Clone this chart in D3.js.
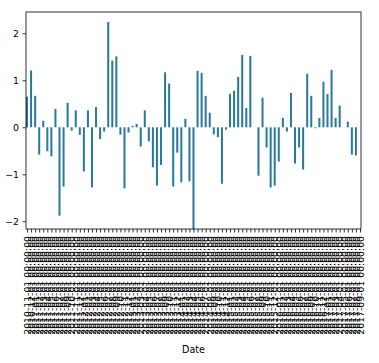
<!DOCTYPE html>
<html>
<head>
<meta charset="utf-8">
<script src="https://cdn.jsdelivr.net/npm/d3@7"></script>
<style>
  body { margin: 0; background: #fff; }
  text { font-family: "DejaVu Sans", sans-serif; }
</style>
</head>
<body>
<svg id="chart" width="379" height="363"></svg>
<script>
// monthly values, one bar per month
const startMonth = "2010-11-01";
const values = [
  0.65, 1.21, 0.67, -0.58, 0.14, -0.51, -0.62, 0.39, -1.88, -1.26,
  0.52, -0.07, 0.36, -0.16, -0.94, 0.36, -1.28, 0.43, -0.25, -0.09,
  2.24, 1.42, 1.51, -0.16, -1.30, -0.11, 0.03, 0.07, -0.41, 0.36,
  -0.30, -0.85, -1.24, -0.80, 1.17, 0.93, -1.26, -0.54, -1.17, 0.18,
  -1.15, -2.17, 1.20, 1.16, 0.67, 0.31, -0.15, -0.21, -1.20, -0.05,
  0.71, 0.78, 1.07, 1.54, 0.41, 1.52, 0.0, -1.03, 0.63, -0.43,
  -1.28, -1.24, -0.73, 0.20, -0.09, 0.73, -0.77, -0.43, -0.90, 1.14,
  0.67, -0.02, 0.20, 0.97, 0.71, 1.22, 0.20, 0.46, 0.0, 0.12,
  -0.58, -0.60, 0.0
];
const yTicks = [-2, -1, 0, 1, 2];
const xLabel = "Date";

// tick labels: the month index as pandas prints timestamps
const start = d3.utcParse("%Y-%m-%d")(startMonth);
const fmt = d3.utcFormat("%Y-%m-%d %H:%M:%S");
const dates = d3.utcMonth.range(start, d3.utcMonth.offset(start, values.length));
const labels = dates.map(d => fmt(d));

const svg = d3.select("#chart");
const margin = { left: 26, right: 18, top: 12, bottom: 134 };
const width = 379, height = 363;

const x = d3.scaleLinear()
  .domain([-0.25, values.length - 0.75])
  .range([margin.left, width - margin.right]);

const y = d3.scaleLinear()
  .domain([-2.164, 2.453])
  .range([height - margin.bottom, margin.top]);

svg.append("clipPath").attr("id", "plot-clip")
  .append("rect")
  .attr("x", margin.left).attr("y", margin.top)
  .attr("width", x.range()[1] - x.range()[0])
  .attr("height", y.range()[0] - y.range()[1]);

// bars
svg.append("g")
  .attr("clip-path", "url(#plot-clip)")
  .selectAll("rect")
  .data(values)
  .enter()
  .append("rect")
  .attr("x", (d, i) => x(i - 0.25))
  .attr("width", x(0.25) - x(-0.25))
  .attr("y", d => y(Math.max(0, d)))
  .attr("height", d => Math.abs(y(d) - y(0)))
  .attr("fill", "#2b7a9c");

// y axis
const yAxis = svg.append("g")
  .attr("transform", `translate(${margin.left},0)`)
  .call(d3.axisLeft(y).tickValues(yTicks).tickSize(3.5).tickPadding(3.5)
    .tickFormat(d => d < 0 ? "\u2212" + Math.abs(d) : String(d)));
yAxis.select(".domain").remove();
yAxis.selectAll("line").attr("stroke", "#000").attr("stroke-width", 0.8);
yAxis.selectAll("text").attr("font-size", 9.3).attr("fill", "#000")
  .attr("font-family", "DejaVu Sans, sans-serif");

// x axis with rotated date labels
const xAxis = svg.append("g")
  .attr("transform", `translate(0,${y.range()[0]})`)
  .call(d3.axisBottom(x).tickValues(d3.range(values.length)).tickSize(3.5)
    .tickFormat(i => labels[i]));
xAxis.select(".domain").remove();
xAxis.selectAll("line").attr("stroke", "#000").attr("stroke-width", 0.8);
xAxis.selectAll("text")
  .attr("font-size", 9.3)
  .attr("fill", "#000")
  .attr("font-family", "DejaVu Sans, sans-serif")
  .attr("text-anchor", "end")
  .attr("transform", "rotate(-90)")
  .attr("x", -7)
  .attr("y", 0)
  .attr("dy", "0.35em");

// frame
svg.append("rect")
  .attr("x", margin.left).attr("y", margin.top)
  .attr("width", x.range()[1] - x.range()[0])
  .attr("height", y.range()[0] - y.range()[1])
  .attr("fill", "none")
  .attr("stroke", "#000")
  .attr("stroke-width", 0.8);

svg.append("text")
  .attr("x", (x.range()[0] + x.range()[1]) / 2)
  .attr("y", 353)
  .attr("text-anchor", "middle")
  .attr("font-size", 9.6)
  .text(xLabel);
</script>
</body>
</html>
